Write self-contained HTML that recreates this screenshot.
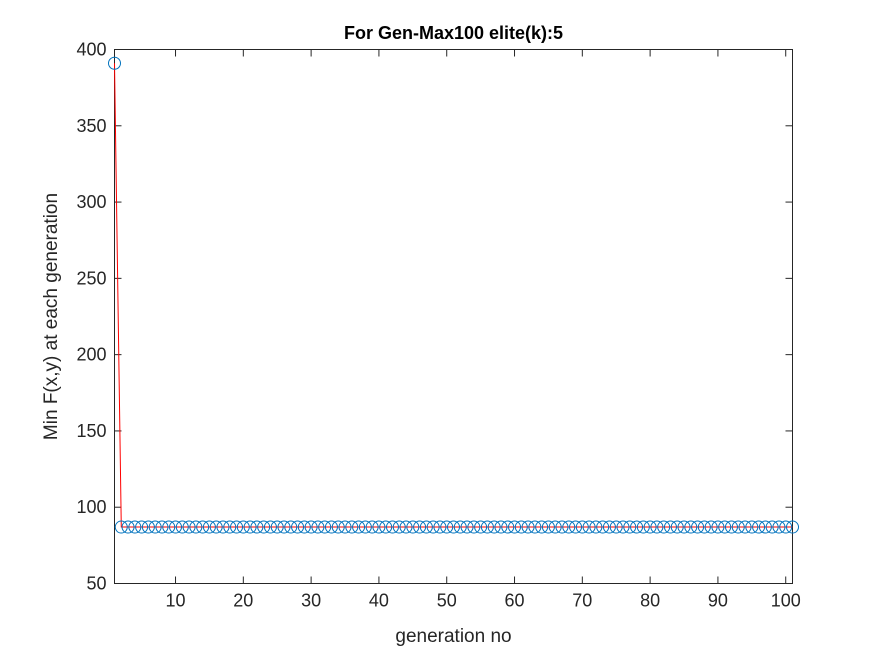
<!DOCTYPE html>
<html><head><meta charset="utf-8"><style>body{margin:0;background:#fff}svg{display:block;font-family:"Liberation Sans",Arial,sans-serif}</style></head>
<body>
<svg id="c" width="875" height="656"></svg>
<script>
const xTicks=[10,20,30,40,50,60,70,80,90,100];
const yTicks=[50,100,150,200,250,300,350,400];
const firstValue=[391];
const restValue=87;
const nPoints=101;
const values=firstValue.concat(Array(nPoints-1).fill(restValue));
const L=114.5,R=792.5,T=49.5,B=583.5;
const sx=x=>L+(x-1)/(101-1)*(R-L);
const sy=y=>B-(y-50)/(400-50)*(B-T);
const svg=document.getElementById('c');
const NS='http://www.w3.org/2000/svg';
function mk(tag,attrs,parent){const e=document.createElementNS(NS,tag);for(const k in attrs)e.setAttribute(k,attrs[k]);(parent||svg).appendChild(e);return e;}
const bg=mk('rect',{x:L,y:T,width:R-L,height:B-T,fill:'#fff'});


const axes=mk('g',{stroke:'#262626','stroke-width':1,fill:'none'});


mk('rect',{x:L,y:T,width:R-L,height:B-T},axes);
xTicks.forEach(t=>{const x=sx(t);mk('line',{x1:x,x2:x,y1:B,y2:B-7},axes);mk('line',{x1:x,x2:x,y1:T,y2:T+7},axes);
const tx=mk('text',{x:x,y:B+23,'text-anchor':'middle','font-size':18,fill:'#262626'});tx.textContent=t;

});
yTicks.forEach(t=>{const y=sy(t);mk('line',{x1:L,x2:L+7,y1:y,y2:y},axes);mk('line',{x1:R,x2:R-7,y1:y,y2:y},axes);
const tx=mk('text',{x:L-8,y:y+6,'text-anchor':'end','font-size':18,fill:'#262626'});tx.textContent=t;

});
const pts=values.map((v,i)=>sx(i+1)+','+sy(v)).join(' ');
const line=mk('polyline',{points:pts,fill:'none',stroke:'#ff0000','stroke-width':1});


values.forEach((v,i)=>{const c=mk('circle',{cx:sx(i+1),cy:sy(v),r:6,fill:'none',stroke:'#0072bd','stroke-width':1});

});
const title=mk('text',{x:(L+R)/2,y:39,'text-anchor':'middle','font-size':18,'font-weight':'bold',fill:'#000'});title.textContent='For Gen-Max100 elite(k):5';


const xl=mk('text',{x:(L+R)/2,y:642,'text-anchor':'middle','font-size':19,fill:'#262626'});xl.textContent='generation no';


const yl=mk('text',{x:0,y:0,'text-anchor':'middle','font-size':19,fill:'#262626',transform:`translate(57,${(T+B)/2}) rotate(-90)`});yl.textContent='Min F(x,y) at each generation';


</script>
</body></html>
